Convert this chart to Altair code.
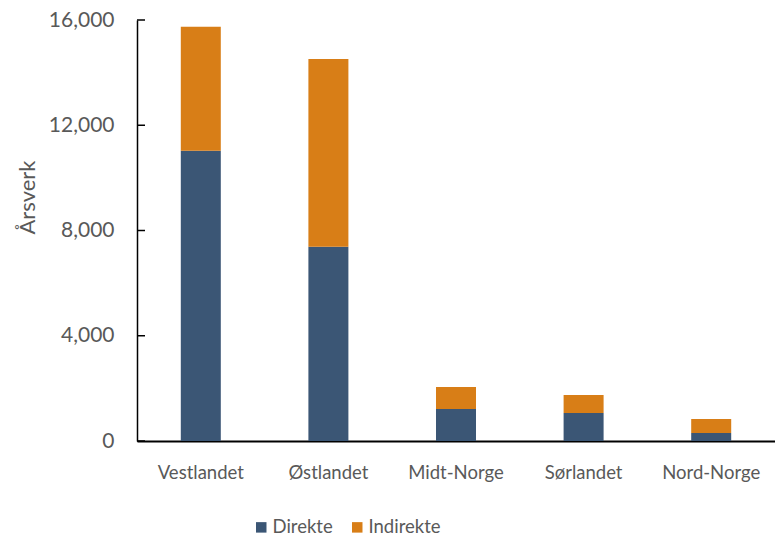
import altair as alt
import pandas as pd

regions = ["Vestlandet", "Østlandet", "Midt-Norge", "Sørlandet", "Nord-Norge"]
direkte = [11030, 7380, 1220, 1060, 300]
indirekte = [4710, 7140, 830, 690, 540]
series = ["Direkte", "Indirekte"]
y_ticks = [0, 4000, 8000, 12000, 16000]

rows = []
for i, r in enumerate(regions):
    rows.append({"region": r, "type": "Direkte", "value": direkte[i], "order": 0})
    rows.append({"region": r, "type": "Indirekte", "value": indirekte[i], "order": 1})
df = pd.DataFrame(rows)

FONT = "Lato"
GREY = "#595959"
FS_X = 18.5
FS_Y = 21

y_scale = alt.Scale(domain=[0, 16000], nice=False)
y_axis = alt.Axis(title="Årsverk", values=y_ticks, format=",.0f",
                  labelFontSize=FS_Y, labelColor=GREY, labelFont=FONT,
                  labelPadding=23, ticks=False, grid=False,
                  domainColor="black", domainWidth=1.5,
                  titleFont=FONT, titleFontSize=22, titleColor=GREY,
                  titleFontWeight="normal", titleX=-98, titleY=177)

bars = alt.Chart(df).mark_bar(size=40).encode(
    x=alt.X("region:N", sort=regions,
            scale=alt.Scale(paddingInner=0, paddingOuter=0),
            axis=alt.Axis(title=None, labelAngle=0, labelFontSize=FS_X,
                          labelColor=GREY, labelFont=FONT, labelPadding=22,
                          ticks=False, domainColor="black", domainWidth=2)),
    y=alt.Y("value:Q", stack="zero", scale=y_scale, axis=y_axis),
    color=alt.Color("type:N", scale=alt.Scale(domain=series,
                                              range=["#3B5675", "#D87E17"]),
                    legend=alt.Legend(title=None, orient="none", direction="horizontal",
                                      legendX=115, legendY=498, padding=0,
                                      symbolType="square",
                                      symbolSize=110, symbolStrokeWidth=0,
                                      labelFont=FONT, labelFontSize=FS_X,
                                      labelOffset=2, labelColor=GREY,
                                      columnPadding=15, symbolOpacity=1)),
    order=alt.Order("order:Q"),
)

# inward-pointing y-axis ticks
tick_df = pd.DataFrame({"t": y_ticks})
ticks = alt.Chart(tick_df).mark_rule(color="black", strokeWidth=1.5).encode(
    y=alt.Y("t:Q", scale=y_scale, axis=y_axis),
    x=alt.value(0),
    x2=alt.value(8),
)

chart = alt.layer(bars, ticks).properties(
    width=638, height=421,
    background="white",
    autosize=alt.AutoSizeParams(type="none"),
    padding={"left": 137, "top": 20, "right": 0, "bottom": 95},
).configure_view(stroke=None)

chart.save("out.html", embed_options={"renderer": "svg", "actions": False})
